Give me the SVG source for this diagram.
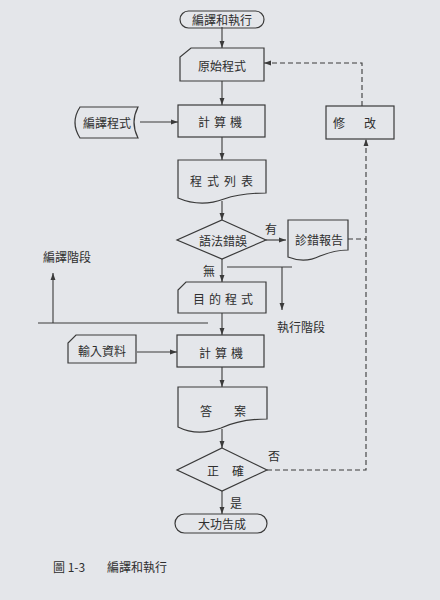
<svg xmlns="http://www.w3.org/2000/svg" width="440" height="600" viewBox="0 0 440 600">
<defs>
<marker id="ah" viewBox="0 0 10 10" refX="10" refY="5" markerWidth="7" markerHeight="7" orient="auto" markerUnits="userSpaceOnUse">
<path d="M0,1.5 L10,5 L0,8.5 Z" fill="#3a3a3a"/>
</marker>
<style>
.s{fill:none;stroke:#3a3a3a;stroke-width:1.2}
.c{fill:none;stroke:#3a3a3a;stroke-width:1.1}
.d{fill:none;stroke:#3a3a3a;stroke-width:1.1;stroke-dasharray:5,3}
.t{font-family:"Noto Sans CJK TC","Noto Sans CJK SC",sans-serif;font-size:12px;fill:#2e2e2e;text-anchor:middle;dominant-baseline:central}
.l{font-family:"Noto Sans CJK TC","Noto Sans CJK SC",sans-serif;font-size:12px;fill:#2e2e2e;dominant-baseline:central}
</style>
</defs>
<rect width="440" height="600" fill="#e4e6ea"/>
<g id="connectors">
<line class="c" x1="222" y1="27" x2="222" y2="48" marker-end="url(#ah)"/>
<line class="c" x1="222" y1="81" x2="222" y2="105" marker-end="url(#ah)"/>
<line class="c" x1="140" y1="122" x2="178" y2="122" marker-end="url(#ah)"/>
<line class="c" x1="222" y1="137" x2="222" y2="160" marker-end="url(#ah)"/>
<line class="c" x1="222" y1="201" x2="222" y2="220" marker-end="url(#ah)"/>
<line class="c" x1="266" y1="240" x2="286" y2="240" marker-end="url(#ah)"/>
<line class="c" x1="222" y1="259" x2="222" y2="282" marker-end="url(#ah)"/>
<line class="c" x1="227" y1="267" x2="292" y2="267"/>
<line class="c" x1="282" y1="267" x2="282" y2="310" marker-end="url(#ah)"/>
<line class="c" x1="38" y1="323" x2="208" y2="323"/>
<line class="c" x1="53" y1="323" x2="53" y2="273" marker-end="url(#ah)"/>
<line class="c" x1="222" y1="313" x2="222" y2="335" marker-end="url(#ah)"/>
<line class="c" x1="137" y1="352" x2="177" y2="352" marker-end="url(#ah)"/>
<line class="c" x1="222" y1="367" x2="222" y2="387" marker-end="url(#ah)"/>
<line class="c" x1="222" y1="429" x2="222" y2="448" marker-end="url(#ah)"/>
<line class="c" x1="222" y1="491" x2="222" y2="514" marker-end="url(#ah)"/>
<polyline class="d" points="267,470 366,470 366,139" marker-end="url(#ah)"/>
<line class="d" x1="348" y1="239" x2="366" y2="239"/>
<polyline class="d" points="362,106 362,63 264,63" marker-end="url(#ah)"/>
</g>
<g id="start">
<rect class="s" x="180" y="11" width="84" height="17" rx="8.5"/>
<text class="t" x="222" y="19.5">編譯和執行</text>
</g>
<g id="source">
<path class="s" d="M191,48 L264,48 L264,81 L180,81 L180,57 Z"/>
<text class="t" x="222" y="65">原始程式</text>
</g>
<g id="compiler">
<path class="s" d="M80,107 L138,107 Q130,122.5 138,138 L80,138 Q70,122.5 80,107 Z"/>
<text class="t" x="107" y="122.5">編譯程式</text>
</g>
<g id="computer1">
<rect class="s" x="178" y="105" width="87" height="32"/>
<text class="t" x="222" y="121" letter-spacing="4">計算機</text>
</g>
<g id="modify">
<rect class="s" x="326" y="106" width="68" height="33"/>
<text class="t" x="339" y="122.5" text-anchor="start">修</text>
<text class="t" x="370" y="122.5">改</text>
</g>
<g id="listing">
<path class="s" d="M178,160 L266,160 L266,193 C250,193 238,194 224,199 C208,205 192,204 178,198 Z"/>
<text class="t" x="224" y="180" letter-spacing="5">程式列表</text>
</g>
<g id="syntax">
<polygon class="s" points="222,220 266,240 222,259 177,240"/>
<text class="t" x="223" y="240">語法錯誤</text>
</g>
<text class="l" x="265" y="228">有</text>
<text class="l" x="203" y="270">無</text>
<g id="diag">
<path class="s" d="M288,220 L348,220 L348,250 C338,250 330,252 320,256 C308,262 298,261 288,257 Z"/>
<text class="t" x="319" y="239">診錯報告</text>
</g>
<text class="l" x="43" y="256">編譯階段</text>
<text class="l" x="277" y="326">執行階段</text>
<g id="object">
<path class="s" d="M186,282 L266,282 L266,313 L178,313 L178,290 Z"/>
<text class="t" x="225" y="298" letter-spacing="4">目的程式</text>
</g>
<g id="input">
<path class="s" d="M76,335 L136,335 L136,363 L68,363 L68,343 Z"/>
<text class="t" x="102" y="350">輸入資料</text>
</g>
<g id="computer2">
<rect class="s" x="177" y="335" width="87" height="32"/>
<text class="t" x="223" y="352" letter-spacing="4">計算機</text>
</g>
<g id="answer">
<path class="s" d="M178,387 L267,387 L267,419 C250,419 236,421 221,428 C205,434 190,433 178,427 Z"/>
<text class="t" x="206" y="410">答</text>
<text class="t" x="240" y="410">案</text>
</g>
<g id="correct">
<polygon class="s" points="222,448 267,470 222,491 177,470"/>
<text class="t" x="213" y="470">正</text>
<text class="t" x="238" y="470">確</text>
</g>
<text class="l" x="268" y="455">否</text>
<text class="l" x="230" y="502">是</text>
<g id="end">
<rect class="s" x="175" y="514" width="92" height="19" rx="9.5"/>
<text class="t" x="222" y="523.5" font-size="13">大功告成</text>
</g>
<text class="l" x="53" y="566" font-size="13">圖 1-3</text>
<text class="l" x="107" y="566" font-size="13">編譯和執行</text>
</svg>
